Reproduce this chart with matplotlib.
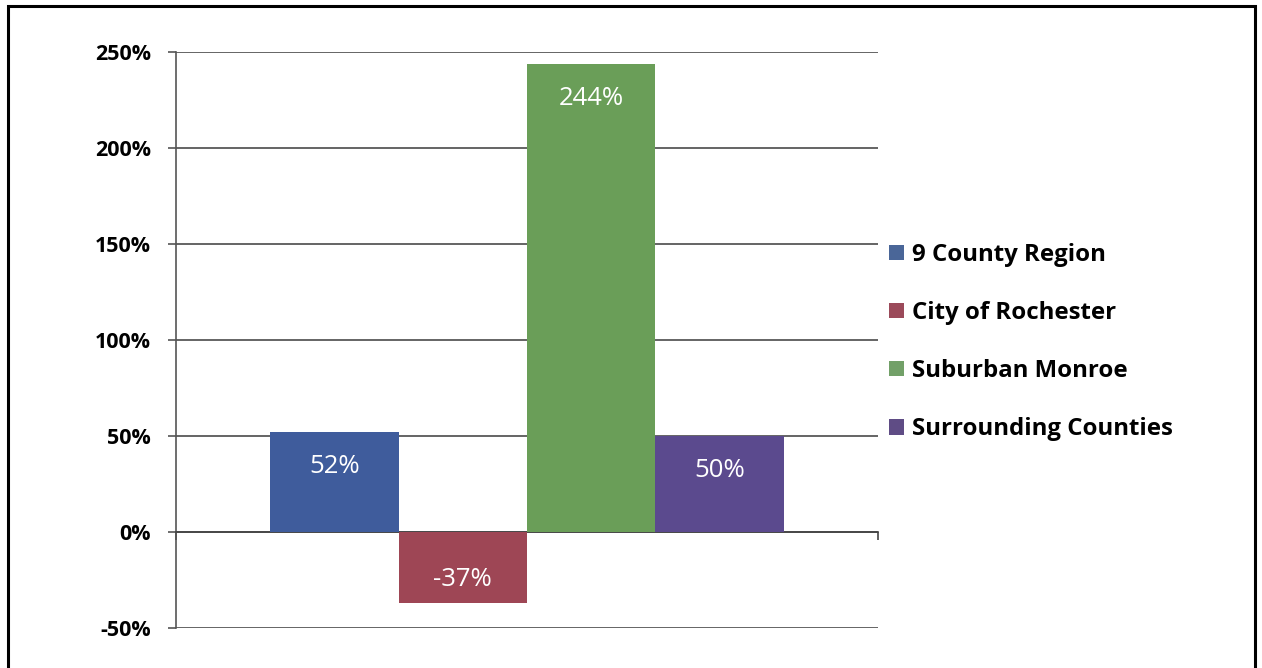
import numpy as np
import matplotlib
matplotlib.use('Agg')
import matplotlib.pyplot as plt
from matplotlib.patches import Rectangle, Patch

# data
series = ['9 County Region', 'City of Rochester', 'Suburban Monroe', 'Surrounding Counties']
values = [52, -37, 244, 50]
colors = ['#3F5C9C', '#9E4655', '#6A9E58', '#5B4A8E']
legend_colors = ['#4A6698', '#9B4A5A', '#72A068', '#5F4C85']
yticks = [-50, 0, 50, 100, 150, 200, 250]

plt.rcParams['font.family'] = ['Open Sans', 'DejaVu Sans']

fig = plt.figure(figsize=(12.62, 6.68), dpi=100)
ax = fig.add_axes([176 / 1262, 1 - 628 / 668, 702 / 1262, 576 / 668])

x = np.arange(len(values))
ax.bar(x, values, width=1.0, color=colors, zorder=3)

for xi, v in zip(x, values):
    if v > 0:
        ax.text(xi, v - 18, '%d%%' % v, ha='center', va='center', color='white', fontsize=18.5, zorder=4)
    else:
        ax.text(xi, v + 12, '%d%%' % v, ha='center', va='center', color='white', fontsize=18.5, zorder=4)

ax.set_ylim(-50, 250)
ax.set_xlim(-1.234, 4.234)
ax.set_yticks(yticks)
ax.set_yticklabels(['%d%%' % t for t in yticks], fontsize=15.5, fontweight='bold')
ax.yaxis.grid(True, color='#4a4a4a', linewidth=1.2, zorder=0)
ax.set_axisbelow(True)

for s in ['top', 'right']:
    ax.spines[s].set_visible(False)
ax.spines['left'].set_color('#555555')
ax.spines['left'].set_linewidth(1.2)
ax.spines['bottom'].set_position(('data', 0))
ax.spines['bottom'].set_color('#444444')
ax.spines['bottom'].set_linewidth(1.2)
ax.set_xticks([-1.234, 4.234])
ax.set_xticklabels(['', ''])
ax.tick_params(axis='x', length=6, color='#444444', width=1.2)
ax.tick_params(axis='y', length=6, color='#555555', width=1.2, pad=12)

handles = [Patch(facecolor=c, label=l) for c, l in zip(legend_colors, series)]
leg = fig.legend(handles=handles, loc='center left', bbox_to_anchor=(889 / 1262, 1 - 342 / 668),
                 frameon=False, borderpad=0, borderaxespad=0, labelspacing=1.42,
                 handlelength=0.62, handleheight=0.62, handletextpad=0.35,
                 prop={'size': 17.3, 'weight': 'bold'})

# page frame from the scan
fig.patches.append(Rectangle((8 / 1262, -0.05), 1247 / 1262, 1.05 - 6 / 668,
                             transform=fig.transFigure, fill=False, edgecolor='black', linewidth=2.2))

fig.savefig('out.png', dpi=100)
